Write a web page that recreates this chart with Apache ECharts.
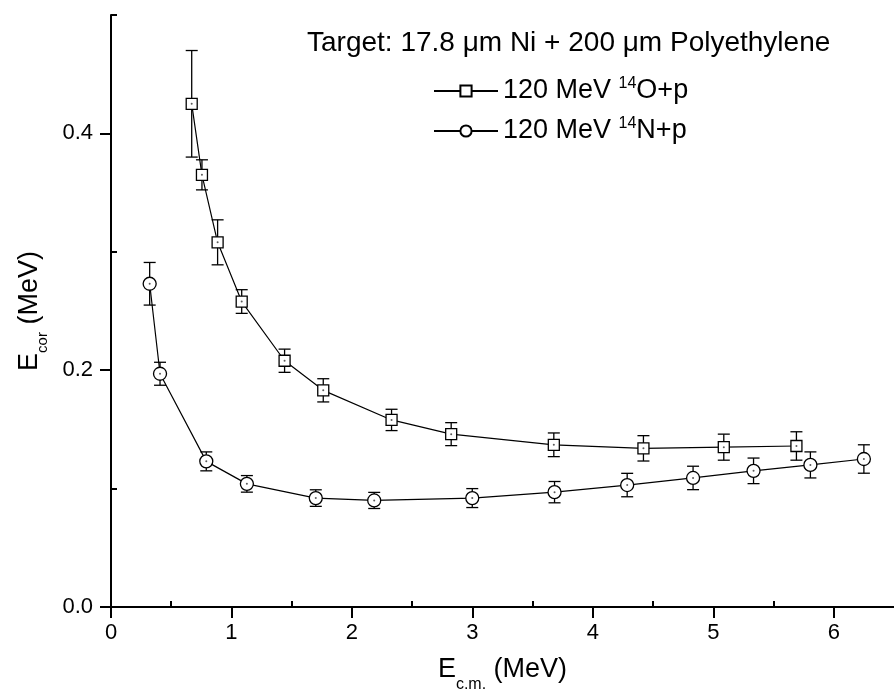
<!DOCTYPE html>
<html><head><meta charset="utf-8">
<script src="https://cdn.jsdelivr.net/npm/echarts@6.0.0/dist/echarts.min.js"></script>
<style>html,body{margin:0;padding:0;background:#fff}#c{width:894px;height:694px}</style>
</head><body><div id="c"></div><script>
// 120 MeV 14O+p
const oX   = [0.67, 0.755, 0.885, 1.085, 1.441, 1.762, 2.329, 2.824, 3.676, 4.42, 5.087, 5.69];
const oY   = [0.425, 0.365, 0.308, 0.258, 0.208, 0.183, 0.158, 0.146, 0.137, 0.134, 0.135, 0.136];
const oErr = [0.045, 0.0127, 0.019, 0.010, 0.0098, 0.0098, 0.009, 0.0097, 0.010, 0.0107, 0.011, 0.012];
// 120 MeV 14N+p
const nX   = [0.321, 0.407, 0.791, 1.128, 1.70, 2.185, 2.999, 3.682, 4.285, 4.832, 5.334, 5.806, 6.25];
const nY   = [0.273, 0.197, 0.123, 0.104, 0.092, 0.090, 0.092, 0.097, 0.103, 0.109, 0.115, 0.120, 0.125];
const nErr = [0.018, 0.0097, 0.008, 0.007, 0.007, 0.0068, 0.008, 0.009, 0.0099, 0.0099, 0.0108, 0.011, 0.012];
// ticks
const xMajor = [0, 1, 2, 3, 4, 5, 6];
const xMinor = [0.5, 1.5, 2.5, 3.5, 4.5, 5.5];
const yMajor = [0, 0.2, 0.4];
const yMinor = [0.1, 0.3, 0.5];
const titleText = 'Target: 17.8 \u03bcm Ni + 200 \u03bcm Polyethylene';
const legendLabels = {O: '120 MeV {s|14}O+p', N: '120 MeV {s|14}N+p'};

const FONT = '"Liberation Sans", Arial, Helvetica, sans-serif';
const pts = (xs, ys) => xs.map((x, i) => [x, ys[i]]);
const errPts = (xs, ys, es) => xs.map((x, i) => [x, ys[i], es[i]]);

function errRender(params, api) {
  const x = api.value(0), y = api.value(1), e = api.value(2);
  const t = api.coord([x, y + e]), b = api.coord([x, y - e]);
  const w = 6;
  const st = {stroke: '#000', lineWidth: 1.3};
  return {type: 'group', children: [
    {type: 'line', shape: {x1: t[0], y1: t[1], x2: b[0], y2: b[1]}, style: st},
    {type: 'line', shape: {x1: t[0] - w, y1: t[1], x2: t[0] + w, y2: t[1]}, style: st},
    {type: 'line', shape: {x1: b[0] - w, y1: b[1], x2: b[0] + w, y2: b[1]}, style: st}
  ]};
}

const axisCommon = {
  type: 'value', axisLine: {show: true, onZero: false, lineStyle: {color: '#000', width: 2}},
  splitLine: {show: false}
};

const chart = echarts.init(document.getElementById('c'));
chart.setOption({
  animation: false,
  backgroundColor: '#fff',
  textStyle: {fontFamily: FONT},
  title: {text: titleText, left: 302, top: 24,
    textStyle: {fontSize: 28, fontWeight: 'normal', color: '#000', fontFamily: FONT}},
  legend: {
    data: ['O', 'N'], orient: 'vertical', left: 428, top: 71, itemGap: 10,
    itemWidth: 64, itemHeight: 14,
    formatter: n => legendLabels[n],
    textStyle: {fontSize: 27, color: '#000', fontFamily: FONT, lineHeight: 30,
      rich: {s: {fontSize: 16, lineHeight: 20, verticalAlign: 'top', color: '#000', fontFamily: FONT}}}
  },
  grid: {left: 111, right: 0, top: 15, bottom: 87, containLabel: false, outerBoundsMode: 'none'},
  xAxis: [
    Object.assign({}, axisCommon, {
      min: 0, max: 6.5, interval: 1,
      name: 'E{sub|c.m.} (MeV)', nameLocation: 'middle', nameGap: 48,
      nameTextStyle: {fontSize: 27, color: '#000', fontFamily: FONT, lineHeight: 30,
        rich: {sub: {fontSize: 16, lineHeight: 16, padding: [22, 0, 0, 0], verticalAlign: 'top', color: '#000', fontFamily: FONT}}},
      axisTick: {show: true, length: 11, customValues: xMajor, lineStyle: {color: '#000', width: 2}},
      axisLabel: {show: true, customValues: xMajor, margin: 15, fontSize: 22, color: '#000', fontFamily: FONT,
        formatter: v => String(v)}
    }),
    Object.assign({}, axisCommon, {
      min: 0, max: 6.5, interval: 1, axisLine: {show: false},
      axisTick: {show: true, length: 6, customValues: xMinor, lineStyle: {color: '#000', width: 2}},
      axisLabel: {show: false}
    })
  ],
  yAxis: [
    Object.assign({}, axisCommon, {
      min: 0, max: 0.5, interval: 0.1,
      name: 'E{sub|cor} (MeV)', nameLocation: 'middle', nameGap: 66, nameRotate: 90,
      nameTextStyle: {fontSize: 27, color: '#000', fontFamily: FONT, lineHeight: 30,
        rich: {sub: {fontSize: 15, lineHeight: 15, padding: [20, 0, 0, 0], verticalAlign: 'top', color: '#000', fontFamily: FONT}}},
      axisTick: {show: true, length: 11, customValues: yMajor, lineStyle: {color: '#000', width: 2}},
      axisLabel: {show: true, customValues: yMajor, margin: 18, fontSize: 22, color: '#000', fontFamily: FONT,
        formatter: v => v.toFixed(1)}
    }),
    Object.assign({}, axisCommon, {
      min: 0, max: 0.5, interval: 0.1, axisLine: {show: false},
      axisTick: {show: true, length: 6, customValues: yMinor, lineStyle: {color: '#000', width: 2}},
      axisLabel: {show: false}
    })
  ],
  series: [
    {type: 'custom', name: 'errO', renderItem: errRender, data: errPts(oX, oY, oErr), encode: {x: 0, y: 1}, z: 1, silent: true},
    {type: 'custom', name: 'errN', renderItem: errRender, data: errPts(nX, nY, nErr), encode: {x: 0, y: 1}, z: 1, silent: true},
    {type: 'line', name: 'O', data: pts(oX, oY), symbol: 'rect', symbolSize: 11, showAllSymbol: true,
      lineStyle: {color: '#000', width: 1.2}, itemStyle: {color: '#fff', borderColor: '#000', borderWidth: 1.3}, z: 3},
    {type: 'line', name: 'N', data: pts(nX, nY), symbol: 'circle', symbolSize: 13, showAllSymbol: true,
      lineStyle: {color: '#000', width: 1.2}, itemStyle: {color: '#fff', borderColor: '#000', borderWidth: 1.3}, z: 3},
    {type: 'scatter', name: 'dotO', data: pts(oX, oY), symbol: 'circle', symbolSize: 2, itemStyle: {color: '#333'}, z: 5, silent: true},
    {type: 'scatter', name: 'dotN', data: pts(nX, nY), symbol: 'circle', symbolSize: 2, itemStyle: {color: '#333'}, z: 5, silent: true}
  ]
});
</script></body></html>
